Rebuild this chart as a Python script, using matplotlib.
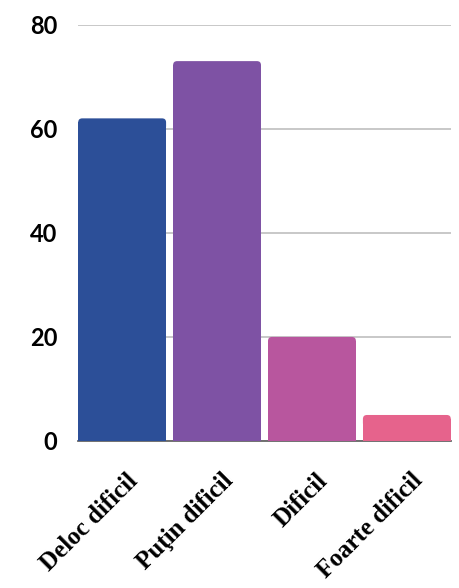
import matplotlib.pyplot as plt
import matplotlib.transforms as mtransforms
from matplotlib.patches import FancyBboxPatch

categories = ["Deloc dificil", "Puţin dificil", "Dificil", "Foarte dificil"]
values = [62, 73, 20, 5]
colors = ["#2C4F98", "#7E52A4", "#B8569E", "#E6638C"]
y_ticks = [0, 20, 40, 60, 80]

plt.rcParams["font.family"] = ["Liberation Serif", "DejaVu Serif"]

fig = plt.figure(figsize=(4.6, 5.88), dpi=100)
ax = fig.add_axes([0.17, 0.25, 0.81, 0.708])

width = 0.926
ax.set_xlim(-width / 2, len(categories) - 1 + width / 2)
ax.set_ylim(0, 80)

# aspect ratio so rounded corners look circular
bbox = ax.get_position()
px_w = bbox.width * fig.get_figwidth() * fig.dpi
px_h = bbox.height * fig.get_figheight() * fig.dpi
x_per_px = (len(categories) - 1 + width) / px_w
y_per_px = 80 / px_h
aspect = y_per_px / x_per_px
radius = 4 * x_per_px
ry = 4 * y_per_px

# square body, rounded cap on top
ax.bar(range(len(categories)), [v - ry for v in values], width=width,
       color=colors, linewidth=0, zorder=3)
for i, (value, color) in enumerate(zip(values, colors)):
    cap = FancyBboxPatch(
        (i - width / 2, value - 3 * ry), width, 3 * ry,
        boxstyle=f"round,pad=0,rounding_size={radius}",
        mutation_aspect=aspect, facecolor=color, linewidth=0, zorder=3,
    )
    ax.add_patch(cap)

ax.set_yticks(y_ticks)
ax.set_yticklabels([str(t) for t in y_ticks], fontsize=17, fontweight="bold",
                   family=["Lato", "DejaVu Sans"])
ax.grid(axis="y", color="#c4c4c4", linewidth=1.3, zorder=0)
ax.tick_params(axis="y", length=0, pad=15)
ax.tick_params(axis="x", length=0, pad=26)

ax.set_xticks(range(len(categories)))
ax.set_xticklabels(categories, rotation=45, ha="right", va="center",
                   rotation_mode="anchor", fontsize=18, fontweight="bold")
offset = mtransforms.ScaledTranslation(9 / 72, 0, fig.dpi_scale_trans)
for label in ax.get_xticklabels():
    label.set_transform(label.get_transform() + offset)

for side in ["top", "right", "left"]:
    ax.spines[side].set_visible(False)
ax.spines["bottom"].set_color("#666666")
ax.spines["bottom"].set_linewidth(1.3)
ax.spines["bottom"].set_zorder(2)

fig.savefig("out.png", dpi=100)
